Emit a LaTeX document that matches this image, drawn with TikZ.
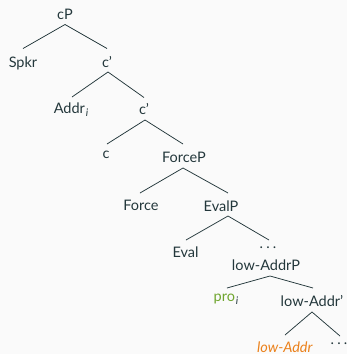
\documentclass[tikz,border=0pt]{standalone}
\usepackage{fontspec}
\setmainfont{Lato}
\definecolor{fgc}{HTML}{23373B}
\definecolor{bgc}{HTML}{FAFAFA}
\definecolor{grn}{HTML}{6FA52E}
\definecolor{org}{HTML}{EB811B}
\newcommand{\subi}{\hspace{0.8pt}\raisebox{-3.5pt}{\textcolor{fgc}{\fontsize{10.5}{12}\selectfont\itshape i}}}
\newcommand{\mydots}{.\hspace{3.2pt}.\hspace{3.2pt}.}
\begin{document}
\begin{tikzpicture}[x=1pt,y=-1pt,
  lab/.style={inner sep=0pt,anchor=base,text=fgc,font=\fontsize{14.5}{17}\selectfont},
  dotlab/.style={inner sep=0pt,anchor=base,text=fgc,font=\fontsize{14.5}{17}\selectfont},
  br/.style={draw=fgc,line width=0.75pt}]
\fill[bgc] (0,0) rectangle (347,354);
\useasboundingbox (0,0) rectangle (347,354);
\node[lab] (cP) at (65,19) {cP};
\node[lab] (spkr) at (23,67) {Spkr};
\node[lab] (c1) at (107,67) {c'};
\node[lab] (addr) at (71,113) {Addr\subi};
\node[lab] (c2) at (144,114) {c'};
\node[lab] (c) at (106,158.3) {c};
\node[lab] (forcep) at (184,162) {ForceP};
\node[lab] (force) at (141,210) {Force};
\node[lab] (evalp) at (221,211) {EvalP};
\node[lab] (eval) at (185.5,257) {Eval};
\node[dotlab] (dots1) at (268,248) {\mydots};
\node[lab] (lowaddrp) at (266,270) {low-AddrP};
\node[lab,text=grn] (pro) at (226,301) {pro\subi};
\node[lab] (lowaddrbar) at (312,306) {low-Addr'};
\node[lab,text=org] (lowaddr) at (285,352) {\textit{low-Addr}};
\node[dotlab] (dots2) at (339,344) {\mydots};
% branches
\draw[br] ([shift={(0,-18.5)}]spkr.base) -- ([shift={(0,5.5)}]cP.base) -- ([shift={(0,-18.5)}]c1.base);
\draw[br] ([shift={(1,-16)}]addr.base) -- ([shift={(1,5)}]c1.base) -- ([shift={(0,-16.5)}]c2.base);
\draw[br] ([shift={(1,-14.3)}]c.base) -- ([shift={(1,6)}]c2.base) -- ([shift={(-1,-18)}]forcep.base);
\draw[br] ([shift={(-1,-17)}]force.base) -- ([shift={(-1,6)}]forcep.base) -- ([shift={(7,-18)}]evalp.base);
\draw[br] ([shift={(0.5,-17)}]eval.base) -- ([shift={(7,5)}]evalp.base) -- ([shift={(1,-8)}]dots1.base);
\draw[br] ([shift={(1,-13)}]pro.base) -- ([shift={(4,6)}]lowaddrp.base) -- ([shift={(1,-18)}]lowaddrbar.base);
\draw[br] ([shift={(0,-17)}]lowaddr.base) -- ([shift={(0,6)}]lowaddrbar.base) -- ([shift={(1,-8)}]dots2.base);
\end{tikzpicture}
\end{document}
